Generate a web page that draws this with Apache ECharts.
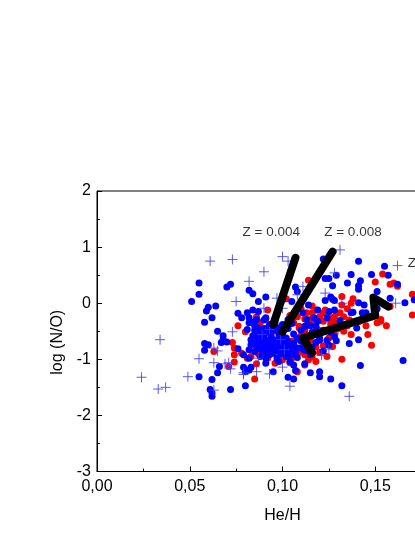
<!DOCTYPE html>
<html><head><meta charset="utf-8">
<style>html,body{margin:0;padding:0;background:#fff;overflow:hidden}#c{width:415px;height:537px}</style>
<script src="https://cdn.jsdelivr.net/npm/echarts@6/dist/echarts.min.js"></script>
</head><body><div id="c"></div>
<script>
const xTickLabels = ['0,00','0,05','0,10','0,15','0,20'];
const yTicks = [-3,-2,-1,0,1,2];
const redPoints = [[.076,-.40],[.080,-.51],[.073,-.70],[.063,-.86],[.074,-.80],[.074,-.92],[.071,-1.13],[.074,-1.05],[.078,-.89],[.081,-.98],[.086,-1.08],[.085,-1.35],[.096,-1.07],[.094,-.89],[.090,-.56],[.095,-.50],[.132,-1.00],[.108,-.89],[.114,-1.01],[.108,-1.22],[.100,-1.01],[.116,-.96],[.122,-.76],[.127,-.77],[.111,-.88],[.107,-.65],[.148,-.75],[.154,.52],[.150,.38],[.158,.34],[.160,.36],[.162,.30],[.170,.16],[.170,-.21],[.158,-.06],[.132,.12],[.138,.08],[.137,.00],[.135,-.10],[.132,-.03],[.131,-.17],[.133,-.24],[.128,-.24],[.126,-.32],[.126,-.26],[.153,-.29],[.151,-.35],[.156,-.40],[.153,-.32],[.114,.41],[.092,-.12],[.091,-.28],[.118,-.12],[.113,-.17],[.108,-.24],[.115,-.29],[.120,-.24],[.109,-.41],[.128,-.56],[.137,-.56],[.146,-.56],[.102,.08],[.086,-.24],[.109,-.44],[.114,-.35],[.106,-.35],[.119,-.47],[.126,-.38],[.123,-.12],[.116,-.17],[.088,-.35],[.095,-.42],[.100,-.50],[.105,-.68],[.110,-.58],[.115,-.66],[.118,-.78],[.120,-.88],[.112,-.92],[.105,-.98],[.100,-.88],[.092,-.98],[.087,-.90],[.083,-.95],[.125,-.62],[.130,-.45],[.135,-.40],[.128,-.35],[.122,-.18],[.110,-.10],[.116,-.05],[.112,-.48],[.118,-.56],[.123,-.50],[.128,-.46],[.133,-.50],[.122,-.32],[.117,-.36],[.112,-.28],[.107,-.16],[.104,-.22],[.129,-.18],[.136,-.30],[.141,-.33],[.145,-.40],[.104,-1.06],[.112,-1.10],[.118,-1.04],[.124,-.95]];
const bluePoints = [[.055,.36],[.055,.16],[.051,.03],[.070,.29],[.072,.34],[.060,-.07],[.059,-.14],[.064,-.05],[.062,-.26],[.058,-.34],[.082,.23],[.084,.17],[.076,-.18],[.078,-.26],[.081,-.17],[.084,-.12],[.065,-.50],[.068,-.58],[.068,-.65],[.058,-.72],[.060,-.74],[.058,-.84],[.067,-.70],[.070,-.69],[.076,-.81],[.066,-1.13],[.065,-1.24],[.055,-1.31],[.062,-1.36],[.061,-1.54],[.062,-1.66],[.062,-1.60],[.072,-1.54],[.080,-1.47],[.079,-1.14],[.080,-1.22],[.082,-1.19],[.083,-1.14],[.079,-.92],[.082,-.98],[.091,-1.07],[.091,-.98],[.095,-1.22],[.082,-.35],[.081,-.47],[.083,-.65],[.082,-.83],[.086,-.77],[.091,-.71],[.093,-.80],[.095,-.89],[.098,-1.04],[.085,-.86],[.088,-.95],[.090,-.59],[.087,-.56],[.104,-1.04],[.106,-1.10],[.112,-1.08],[.107,-1.20],[.103,-1.32],[.106,-1.35],[.115,-1.24],[.120,-1.22],[.120,-1.31],[.126,-1.35],[.132,-1.47],[.115,-.92],[.120,-.66],[.124,-.66],[.129,-.67],[.136,-.72],[.141,-.65],[.142,-1.11],[.165,-1.02],[.095,-.74],[.141,.75],[.155,.66],[.148,.51],[.157,.50],[.137,.51],[.123,.44],[.125,.44],[.129,.50],[.135,.36],[.142,.40],[.141,.31],[.141,.25],[.127,.31],[.151,.21],[.162,.34],[.122,.79],[.123,.05],[.126,.11],[.128,.05],[.158,.09],[.166,.01],[.171,.06],[.141,.01],[.144,-.03],[.138,-.16],[.143,-.17],[.145,-.17],[.131,-.31],[.128,-.12],[.125,-.15],[.127,.07],[.151,-.10],[.087,.03],[.091,.11],[.107,.29],[.108,.21],[.119,-.12],[.112,-.41],[.115,-.40],[.124,-.26],[.137,-.17],[.140,-.44],[.126,-.52],[.118,-.41],[.087,-.15],[.082,-.26],[.086,-.29],[.091,-.26],[.096,-.28],[.103,-.29],[.113,-.29],[.117,-.26],[.119,-.32],[.114,-.03],[.111,-.17],[.100,.06],[.105,.03],[.085,-.40],[.088,-.50],[.090,-.45],[.092,-.52],[.095,-.48],[.098,-.55],[.094,-.60],[.097,-.65],[.100,-.58],[.102,-.62],[.100,-.70],[.103,-.75],[.098,-.78],[.095,-.85],[.099,-.90],[.101,-.82],[.104,-.88],[.106,-.72],[.108,-.80],[.110,-.68],[.112,-.75],[.114,-.85],[.092,-.66],[.089,-.70],[.086,-.62],[.084,-.58],[.087,-.80],[.091,-.88],[.090,-.76],[.096,-.75],[.093,-.92],[.097,-.98],[.102,-.95],[.105,-.92],[.108,-.97],[.116,-.78],[.118,-.70],[.120,-.62],[.113,-.60],[.108,-.62],[.106,-.55],[.103,-.45],[.100,-.38],[.096,-.35],[.093,-.38],[.090,-.30],[.105,-.36],[.110,-.48],[.116,-.52],[.122,-.48],[.128,-.60],[.125,-.75],[.122,-.85],[.088,-.60],[.090,-.66],[.093,-.72],[.095,-.66],[.097,-.72],[.099,-.62],[.101,-.66],[.103,-.68],[.105,-.78],[.107,-.85],[.110,-.80],[.112,-.84],[.094,-.78],[.092,-.84],[.097,-.85],[.100,-.76],[.102,-.86],[.089,-.84],[.086,-.70],[.083,-.74],[.085,-.48],[.087,-.44],[.084,-.34],[.092,-.44],[.098,-.44]];
const plusPoints = [[.024,-1.32],[.033,-1.53],[.037,-1.50],[.049,-1.31],[.055,-.99],[.034,-.65],[.063,-1.06],[.063,-.80],[.065,-.85],[.071,-1.06],[.072,-1.17],[.063,-1.55],[.079,-1.24],[.086,-1.22],[.073,-.51],[.069,-1.08],[.079,-1.27],[.093,-1.26],[.087,-.98],[.089,-.56],[.100,-1.14],[.104,-1.48],[.121,-.93],[.125,-.82],[.130,-.47],[.136,-1.66],[.131,.95],[.100,.83],[.103,.75],[.090,.56],[.111,.30],[.128,.54],[.162,.67],[.123,.18],[.161,.00],[.097,.09],[.090,-.09],[.100,-.09],[.061,.75],[.073,.78],[.082,.39],[.075,.03],[.108,.15],[.132,.00],[.099,-.65],[.093,-.47],[.101,-.83]];
const trackZ004 = [[.095,-.38],[.107,.81]];
const trackZ008 = [[.100,-.51],[.127,.92]];
const trackZ3 = [[.116,-.88],[.111,-.62],[.150,-.22],[.149,.10],[.157,-.06]];
const annotations = [[.0785,1.27,'Z = 0.004'],[.1225,1.27,'Z = 0.008'],[.1675,.72,'Z = 0.001']];
const FONT = '"Liberation Sans", Arial, sans-serif';
const thick = d => ({type:'line',data:d,symbol:'none',silent:true,z:5,
  lineStyle:{color:'#000',width:8,cap:'round',join:'round'}});
const chart = echarts.init(document.getElementById('c'),null,{renderer:'canvas'});
chart.setOption({
  animation:false,
  grid:{left:97,top:191,width:371,height:280.5,show:true,borderColor:'#000',borderWidth:1,backgroundColor:'transparent',outerBoundsMode:'none',containLabel:false},
  xAxis:{type:'value',min:0,max:.2,interval:.05,name:'He/H',nameLocation:'middle',
    nameGap:36,nameTextStyle:{fontFamily:FONT,fontSize:16,color:'#000'},
    axisLine:{onZero:false,lineStyle:{color:'#000',width:1}},
    axisTick:{inside:true,length:5,lineStyle:{color:'#000'}},
    minorTick:{show:true,splitNumber:2,length:3,lineStyle:{color:'#000'}},
    splitLine:{show:false},
    axisLabel:{fontFamily:FONT,fontSize:16,color:'#000',margin:7,hideOverlap:false,
      formatter:(v)=>xTickLabels[Math.round(v/.05)]}},
  yAxis:{type:'value',min:yTicks[0],max:yTicks[yTicks.length-1],interval:1,name:'log (N/O)',nameLocation:'middle',
    nameGap:23,nameTextStyle:{fontFamily:FONT,fontSize:16,color:'#000',padding:[0,22,0,0]},
    axisLine:{onZero:false,lineStyle:{color:'#000',width:1}},
    axisTick:{inside:true,length:5,lineStyle:{color:'#000'}},
    minorTick:{show:true,splitNumber:2,length:3,lineStyle:{color:'#000'}},
    splitLine:{show:false},
    axisLabel:{fontFamily:FONT,fontSize:16,color:'#000',margin:6}},
  series:[
    {type:'scatter',data:redPoints,symbol:'circle',symbolSize:7,silent:true,z:2,itemStyle:{color:'#ff0000',opacity:1}},
    {type:'scatter',data:bluePoints,symbol:'circle',symbolSize:7,silent:true,z:3,itemStyle:{color:'#0000ff',opacity:1}},
    {type:'scatter',data:plusPoints,symbol:'path://M5 0V10M0 5H10',symbolSize:10,silent:true,z:4,
      itemStyle:{color:'none',borderColor:'#3c3cff',borderWidth:1,opacity:.85}},
    thick(trackZ004),thick(trackZ008),thick(trackZ3),
    {type:'scatter',data:annotations,symbolSize:0,silent:true,z:6,
      label:{show:true,position:'right',distance:0,fontFamily:FONT,fontSize:13.5,color:'#000',formatter:p=>p.data[2]}}
  ]
});
</script></body></html>
